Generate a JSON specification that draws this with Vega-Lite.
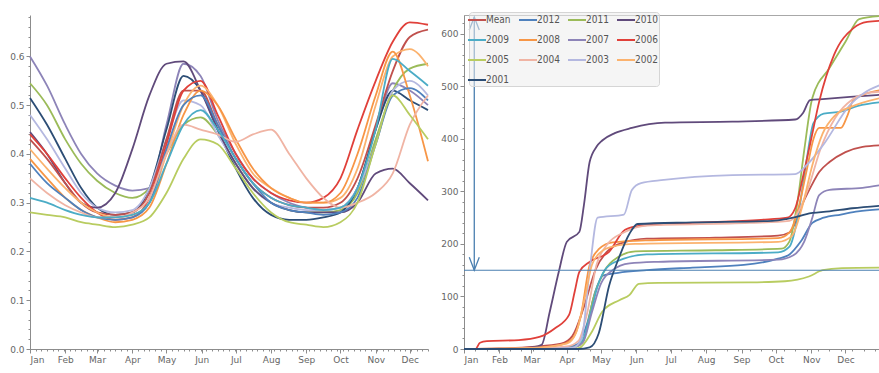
{
  "$schema": "https://vega.github.io/schema/vega-lite/v6.json",
  "background": "white",
  "padding": {"left": 9, "top": 11, "right": 0, "bottom": 0},
  "spacing": 8,
  "config": {
    "view": {"stroke": null},
    "axis": {"grid": false, "domainColor": "#8c8c8c", "tickColor": "#8c8c8c", "labelColor": "#666666", "labelFont": "DejaVu Sans", "labelFontSize": 9, "tickSize": 4, "labelPadding": 2}
  },
  "datasets": {
    "index": [
      {"s":"2007","d":0,"v":0.60},{"s":"2007","d":15,"v":0.54},{"s":"2007","d":31,"v":0.46},{"s":"2007","d":45,"v":0.40},{"s":"2007","d":59,"v":0.36},{"s":"2007","d":75,"v":0.335},{"s":"2007","d":90,"v":0.325},{"s":"2007","d":105,"v":0.33},{"s":"2007","d":120,"v":0.46},{"s":"2007","d":135,"v":0.585},{"s":"2007","d":150,"v":0.56},{"s":"2007","d":165,"v":0.47},{"s":"2007","d":181,"v":0.40},{"s":"2007","d":196,"v":0.35},{"s":"2007","d":212,"v":0.32},{"s":"2007","d":228,"v":0.30},{"s":"2007","d":243,"v":0.29},{"s":"2007","d":258,"v":0.285},{"s":"2007","d":273,"v":0.29},{"s":"2007","d":288,"v":0.33},{"s":"2007","d":304,"v":0.45},{"s":"2007","d":319,"v":0.545},{"s":"2007","d":334,"v":0.53},{"s":"2007","d":350,"v":0.50},
      {"s":"2011","d":0,"v":0.545},{"s":"2011","d":15,"v":0.50},{"s":"2011","d":31,"v":0.43},{"s":"2011","d":45,"v":0.38},{"s":"2011","d":59,"v":0.345},{"s":"2011","d":75,"v":0.32},{"s":"2011","d":90,"v":0.31},{"s":"2011","d":105,"v":0.33},{"s":"2011","d":120,"v":0.40},{"s":"2011","d":135,"v":0.46},{"s":"2011","d":150,"v":0.475},{"s":"2011","d":165,"v":0.44},{"s":"2011","d":181,"v":0.38},{"s":"2011","d":196,"v":0.33},{"s":"2011","d":212,"v":0.30},{"s":"2011","d":228,"v":0.285},{"s":"2011","d":243,"v":0.28},{"s":"2011","d":258,"v":0.28},{"s":"2011","d":273,"v":0.285},{"s":"2011","d":288,"v":0.32},{"s":"2011","d":304,"v":0.43},{"s":"2011","d":319,"v":0.53},{"s":"2011","d":334,"v":0.575},{"s":"2011","d":350,"v":0.585},
      {"s":"2001","d":0,"v":0.515},{"s":"2001","d":15,"v":0.46},{"s":"2001","d":31,"v":0.39},{"s":"2001","d":45,"v":0.33},{"s":"2001","d":59,"v":0.29},{"s":"2001","d":75,"v":0.275},{"s":"2001","d":90,"v":0.28},{"s":"2001","d":105,"v":0.33},{"s":"2001","d":120,"v":0.45},{"s":"2001","d":135,"v":0.56},{"s":"2001","d":150,"v":0.53},{"s":"2001","d":165,"v":0.45},{"s":"2001","d":181,"v":0.37},{"s":"2001","d":196,"v":0.31},{"s":"2001","d":212,"v":0.275},{"s":"2001","d":228,"v":0.265},{"s":"2001","d":243,"v":0.265},{"s":"2001","d":258,"v":0.27},{"s":"2001","d":273,"v":0.28},{"s":"2001","d":288,"v":0.33},{"s":"2001","d":304,"v":0.45},{"s":"2001","d":319,"v":0.53},{"s":"2001","d":334,"v":0.51},{"s":"2001","d":350,"v":0.49},
      {"s":"2003","d":0,"v":0.48},{"s":"2003","d":15,"v":0.43},{"s":"2003","d":31,"v":0.37},{"s":"2003","d":45,"v":0.32},{"s":"2003","d":59,"v":0.29},{"s":"2003","d":75,"v":0.28},{"s":"2003","d":90,"v":0.285},{"s":"2003","d":105,"v":0.33},{"s":"2003","d":120,"v":0.43},{"s":"2003","d":135,"v":0.51},{"s":"2003","d":150,"v":0.50},{"s":"2003","d":165,"v":0.44},{"s":"2003","d":181,"v":0.38},{"s":"2003","d":196,"v":0.33},{"s":"2003","d":212,"v":0.30},{"s":"2003","d":228,"v":0.29},{"s":"2003","d":243,"v":0.285},{"s":"2003","d":258,"v":0.285},{"s":"2003","d":273,"v":0.29},{"s":"2003","d":288,"v":0.33},{"s":"2003","d":304,"v":0.42},{"s":"2003","d":319,"v":0.53},{"s":"2003","d":334,"v":0.55},{"s":"2003","d":350,"v":0.52},
      {"s":"2010","d":0,"v":0.445},{"s":"2010","d":15,"v":0.40},{"s":"2010","d":31,"v":0.34},{"s":"2010","d":45,"v":0.30},{"s":"2010","d":59,"v":0.29},{"s":"2010","d":75,"v":0.32},{"s":"2010","d":90,"v":0.41},{"s":"2010","d":105,"v":0.52},{"s":"2010","d":120,"v":0.585},{"s":"2010","d":135,"v":0.59},{"s":"2010","d":150,"v":0.53},{"s":"2010","d":165,"v":0.45},{"s":"2010","d":181,"v":0.38},{"s":"2010","d":196,"v":0.33},{"s":"2010","d":212,"v":0.30},{"s":"2010","d":228,"v":0.285},{"s":"2010","d":243,"v":0.28},{"s":"2010","d":258,"v":0.28},{"s":"2010","d":273,"v":0.28},{"s":"2010","d":288,"v":0.30},{"s":"2010","d":304,"v":0.36},{"s":"2010","d":319,"v":0.37},{"s":"2010","d":334,"v":0.34},{"s":"2010","d":350,"v":0.305},
      {"s":"Mean","d":0,"v":0.43},{"s":"Mean","d":15,"v":0.39},{"s":"Mean","d":31,"v":0.34},{"s":"Mean","d":45,"v":0.30},{"s":"Mean","d":59,"v":0.28},{"s":"Mean","d":75,"v":0.275},{"s":"Mean","d":90,"v":0.28},{"s":"Mean","d":105,"v":0.32},{"s":"Mean","d":120,"v":0.43},{"s":"Mean","d":135,"v":0.53},{"s":"Mean","d":150,"v":0.53},{"s":"Mean","d":165,"v":0.46},{"s":"Mean","d":181,"v":0.39},{"s":"Mean","d":196,"v":0.34},{"s":"Mean","d":212,"v":0.31},{"s":"Mean","d":228,"v":0.295},{"s":"Mean","d":243,"v":0.29},{"s":"Mean","d":258,"v":0.29},{"s":"Mean","d":273,"v":0.30},{"s":"Mean","d":288,"v":0.35},{"s":"Mean","d":304,"v":0.46},{"s":"Mean","d":319,"v":0.57},{"s":"Mean","d":334,"v":0.64},{"s":"Mean","d":350,"v":0.655},
      {"s":"2006","d":0,"v":0.44},{"s":"2006","d":15,"v":0.40},{"s":"2006","d":31,"v":0.35},{"s":"2006","d":45,"v":0.31},{"s":"2006","d":59,"v":0.28},{"s":"2006","d":75,"v":0.265},{"s":"2006","d":90,"v":0.27},{"s":"2006","d":105,"v":0.31},{"s":"2006","d":120,"v":0.42},{"s":"2006","d":135,"v":0.53},{"s":"2006","d":150,"v":0.55},{"s":"2006","d":165,"v":0.48},{"s":"2006","d":181,"v":0.40},{"s":"2006","d":196,"v":0.35},{"s":"2006","d":212,"v":0.32},{"s":"2006","d":228,"v":0.305},{"s":"2006","d":243,"v":0.30},{"s":"2006","d":258,"v":0.31},{"s":"2006","d":273,"v":0.35},{"s":"2006","d":288,"v":0.45},{"s":"2006","d":304,"v":0.55},{"s":"2006","d":319,"v":0.63},{"s":"2006","d":334,"v":0.67},{"s":"2006","d":350,"v":0.665},
      {"s":"2002","d":0,"v":0.41},{"s":"2002","d":15,"v":0.37},{"s":"2002","d":31,"v":0.33},{"s":"2002","d":45,"v":0.30},{"s":"2002","d":59,"v":0.28},{"s":"2002","d":75,"v":0.27},{"s":"2002","d":90,"v":0.275},{"s":"2002","d":105,"v":0.30},{"s":"2002","d":120,"v":0.40},{"s":"2002","d":135,"v":0.50},{"s":"2002","d":150,"v":0.54},{"s":"2002","d":165,"v":0.50},{"s":"2002","d":181,"v":0.42},{"s":"2002","d":196,"v":0.36},{"s":"2002","d":212,"v":0.33},{"s":"2002","d":228,"v":0.31},{"s":"2002","d":243,"v":0.30},{"s":"2002","d":258,"v":0.30},{"s":"2002","d":273,"v":0.31},{"s":"2002","d":288,"v":0.37},{"s":"2002","d":304,"v":0.50},{"s":"2002","d":319,"v":0.60},{"s":"2002","d":334,"v":0.615},{"s":"2002","d":350,"v":0.58},
      {"s":"2008","d":0,"v":0.39},{"s":"2008","d":15,"v":0.35},{"s":"2008","d":31,"v":0.31},{"s":"2008","d":45,"v":0.285},{"s":"2008","d":59,"v":0.27},{"s":"2008","d":75,"v":0.26},{"s":"2008","d":90,"v":0.265},{"s":"2008","d":105,"v":0.29},{"s":"2008","d":120,"v":0.38},{"s":"2008","d":135,"v":0.48},{"s":"2008","d":150,"v":0.53},{"s":"2008","d":165,"v":0.50},{"s":"2008","d":181,"v":0.43},{"s":"2008","d":196,"v":0.37},{"s":"2008","d":212,"v":0.33},{"s":"2008","d":228,"v":0.31},{"s":"2008","d":243,"v":0.30},{"s":"2008","d":258,"v":0.30},{"s":"2008","d":273,"v":0.32},{"s":"2008","d":288,"v":0.40},{"s":"2008","d":304,"v":0.52},{"s":"2008","d":319,"v":0.61},{"s":"2008","d":334,"v":0.52},{"s":"2008","d":350,"v":0.385},
      {"s":"2012","d":0,"v":0.38},{"s":"2012","d":15,"v":0.34},{"s":"2012","d":31,"v":0.31},{"s":"2012","d":45,"v":0.285},{"s":"2012","d":59,"v":0.27},{"s":"2012","d":75,"v":0.265},{"s":"2012","d":90,"v":0.27},{"s":"2012","d":105,"v":0.30},{"s":"2012","d":120,"v":0.41},{"s":"2012","d":135,"v":0.50},{"s":"2012","d":150,"v":0.52},{"s":"2012","d":165,"v":0.46},{"s":"2012","d":181,"v":0.39},{"s":"2012","d":196,"v":0.34},{"s":"2012","d":212,"v":0.30},{"s":"2012","d":228,"v":0.285},{"s":"2012","d":243,"v":0.28},{"s":"2012","d":258,"v":0.275},{"s":"2012","d":273,"v":0.28},{"s":"2012","d":288,"v":0.31},{"s":"2012","d":304,"v":0.42},{"s":"2012","d":319,"v":0.52},{"s":"2012","d":334,"v":0.535},{"s":"2012","d":350,"v":0.51},
      {"s":"2004","d":0,"v":0.35},{"s":"2004","d":15,"v":0.32},{"s":"2004","d":31,"v":0.295},{"s":"2004","d":45,"v":0.28},{"s":"2004","d":59,"v":0.27},{"s":"2004","d":75,"v":0.27},{"s":"2004","d":90,"v":0.28},{"s":"2004","d":105,"v":0.31},{"s":"2004","d":120,"v":0.40},{"s":"2004","d":135,"v":0.46},{"s":"2004","d":150,"v":0.45},{"s":"2004","d":165,"v":0.44},{"s":"2004","d":181,"v":0.425},{"s":"2004","d":196,"v":0.44},{"s":"2004","d":212,"v":0.45},{"s":"2004","d":228,"v":0.40},{"s":"2004","d":243,"v":0.35},{"s":"2004","d":258,"v":0.31},{"s":"2004","d":273,"v":0.29},{"s":"2004","d":288,"v":0.30},{"s":"2004","d":304,"v":0.32},{"s":"2004","d":319,"v":0.36},{"s":"2004","d":334,"v":0.46},{"s":"2004","d":350,"v":0.52},
      {"s":"2009","d":0,"v":0.31},{"s":"2009","d":15,"v":0.30},{"s":"2009","d":31,"v":0.285},{"s":"2009","d":45,"v":0.275},{"s":"2009","d":59,"v":0.27},{"s":"2009","d":75,"v":0.27},{"s":"2009","d":90,"v":0.275},{"s":"2009","d":105,"v":0.30},{"s":"2009","d":120,"v":0.38},{"s":"2009","d":135,"v":0.46},{"s":"2009","d":150,"v":0.49},{"s":"2009","d":165,"v":0.45},{"s":"2009","d":181,"v":0.39},{"s":"2009","d":196,"v":0.34},{"s":"2009","d":212,"v":0.31},{"s":"2009","d":228,"v":0.295},{"s":"2009","d":243,"v":0.29},{"s":"2009","d":258,"v":0.285},{"s":"2009","d":273,"v":0.29},{"s":"2009","d":288,"v":0.33},{"s":"2009","d":304,"v":0.45},{"s":"2009","d":319,"v":0.595},{"s":"2009","d":334,"v":0.57},{"s":"2009","d":350,"v":0.54},
      {"s":"2005","d":0,"v":0.28},{"s":"2005","d":15,"v":0.275},{"s":"2005","d":31,"v":0.27},{"s":"2005","d":45,"v":0.26},{"s":"2005","d":59,"v":0.255},{"s":"2005","d":75,"v":0.25},{"s":"2005","d":90,"v":0.255},{"s":"2005","d":105,"v":0.27},{"s":"2005","d":120,"v":0.32},{"s":"2005","d":135,"v":0.39},{"s":"2005","d":150,"v":0.43},{"s":"2005","d":165,"v":0.42},{"s":"2005","d":181,"v":0.37},{"s":"2005","d":196,"v":0.32},{"s":"2005","d":212,"v":0.28},{"s":"2005","d":228,"v":0.26},{"s":"2005","d":243,"v":0.255},{"s":"2005","d":258,"v":0.25},{"s":"2005","d":273,"v":0.26},{"s":"2005","d":288,"v":0.30},{"s":"2005","d":304,"v":0.42},{"s":"2005","d":319,"v":0.52},{"s":"2005","d":334,"v":0.48},{"s":"2005","d":350,"v":0.43}
    ],
    "cumulative": [
      {"s":"Mean","d":0,"v":0},{"s":"Mean","d":30,"v":1},{"s":"Mean","d":60,"v":4},{"s":"Mean","d":85,"v":10},{"s":"Mean","d":95,"v":25},{"s":"Mean","d":105,"v":80},{"s":"Mean","d":115,"v":150},{"s":"Mean","d":125,"v":185},{"s":"Mean","d":140,"v":203},{"s":"Mean","d":160,"v":210},{"s":"Mean","d":220,"v":212},{"s":"Mean","d":275,"v":216},{"s":"Mean","d":285,"v":222},{"s":"Mean","d":290,"v":240},{"s":"Mean","d":296,"v":274},{"s":"Mean","d":304,"v":310},{"s":"Mean","d":311,"v":337},{"s":"Mean","d":320,"v":356},{"s":"Mean","d":334,"v":375},{"s":"Mean","d":349,"v":385},{"s":"Mean","d":365,"v":388},
      {"s":"2012","d":0,"v":0},{"s":"2012","d":60,"v":0},{"s":"2012","d":90,"v":3},{"s":"2012","d":100,"v":10},{"s":"2012","d":108,"v":50},{"s":"2012","d":115,"v":110},{"s":"2012","d":122,"v":140},{"s":"2012","d":135,"v":145},{"s":"2012","d":160,"v":150},{"s":"2012","d":200,"v":155},{"s":"2012","d":245,"v":160},{"s":"2012","d":275,"v":172},{"s":"2012","d":285,"v":180},{"s":"2012","d":295,"v":205},{"s":"2012","d":305,"v":240},{"s":"2012","d":315,"v":250},{"s":"2012","d":330,"v":256},{"s":"2012","d":345,"v":262},{"s":"2012","d":365,"v":266},
      {"s":"2011","d":0,"v":0},{"s":"2011","d":60,"v":0},{"s":"2011","d":90,"v":2},{"s":"2011","d":100,"v":6},{"s":"2011","d":106,"v":25},{"s":"2011","d":113,"v":95},{"s":"2011","d":122,"v":145},{"s":"2011","d":135,"v":175},{"s":"2011","d":150,"v":186},{"s":"2011","d":220,"v":188},{"s":"2011","d":278,"v":191},{"s":"2011","d":285,"v":205},{"s":"2011","d":292,"v":280},{"s":"2011","d":298,"v":380},{"s":"2011","d":305,"v":478},{"s":"2011","d":320,"v":535},{"s":"2011","d":334,"v":585},{"s":"2011","d":346,"v":628},{"s":"2011","d":365,"v":634},
      {"s":"2010","d":0,"v":0},{"s":"2010","d":40,"v":0},{"s":"2010","d":60,"v":3},{"s":"2010","d":68,"v":8},{"s":"2010","d":75,"v":70},{"s":"2010","d":83,"v":147},{"s":"2010","d":90,"v":204},{"s":"2010","d":101,"v":223},{"s":"2010","d":105,"v":274},{"s":"2010","d":110,"v":356},{"s":"2010","d":116,"v":385},{"s":"2010","d":121,"v":397},{"s":"2010","d":132,"v":411},{"s":"2010","d":147,"v":421},{"s":"2010","d":162,"v":428},{"s":"2010","d":176,"v":431},{"s":"2010","d":235,"v":433},{"s":"2010","d":290,"v":437},{"s":"2010","d":297,"v":450},{"s":"2010","d":303,"v":474},{"s":"2010","d":314,"v":476},{"s":"2010","d":338,"v":480},{"s":"2010","d":365,"v":484},
      {"s":"2009","d":0,"v":0},{"s":"2009","d":60,"v":0},{"s":"2009","d":95,"v":3},{"s":"2009","d":103,"v":12},{"s":"2009","d":110,"v":60},{"s":"2009","d":117,"v":120},{"s":"2009","d":125,"v":155},{"s":"2009","d":140,"v":172},{"s":"2009","d":160,"v":180},{"s":"2009","d":275,"v":184},{"s":"2009","d":285,"v":195},{"s":"2009","d":293,"v":260},{"s":"2009","d":300,"v":360},{"s":"2009","d":306,"v":430},{"s":"2009","d":315,"v":448},{"s":"2009","d":330,"v":452},{"s":"2009","d":345,"v":463},{"s":"2009","d":365,"v":470},
      {"s":"2008","d":0,"v":0},{"s":"2008","d":60,"v":2},{"s":"2008","d":85,"v":8},{"s":"2008","d":95,"v":20},{"s":"2008","d":102,"v":60},{"s":"2008","d":110,"v":160},{"s":"2008","d":118,"v":190},{"s":"2008","d":130,"v":203},{"s":"2008","d":160,"v":207},{"s":"2008","d":275,"v":211},{"s":"2008","d":285,"v":222},{"s":"2008","d":293,"v":270},{"s":"2008","d":300,"v":340},{"s":"2008","d":306,"v":400},{"s":"2008","d":311,"v":421},{"s":"2008","d":330,"v":421},{"s":"2008","d":336,"v":446},{"s":"2008","d":341,"v":474},{"s":"2008","d":365,"v":493},
      {"s":"2007","d":0,"v":0},{"s":"2007","d":60,"v":0},{"s":"2007","d":95,"v":3},{"s":"2007","d":104,"v":12},{"s":"2007","d":112,"v":70},{"s":"2007","d":120,"v":125},{"s":"2007","d":130,"v":150},{"s":"2007","d":145,"v":163},{"s":"2007","d":170,"v":166},{"s":"2007","d":275,"v":170},{"s":"2007","d":288,"v":178},{"s":"2007","d":298,"v":205},{"s":"2007","d":305,"v":250},{"s":"2007","d":311,"v":293},{"s":"2007","d":320,"v":303},{"s":"2007","d":349,"v":307},{"s":"2007","d":365,"v":312},
      {"s":"2006","d":0,"v":0},{"s":"2006","d":10,"v":0},{"s":"2006","d":14,"v":12},{"s":"2006","d":20,"v":15},{"s":"2006","d":48,"v":17},{"s":"2006","d":66,"v":23},{"s":"2006","d":80,"v":40},{"s":"2006","d":92,"v":65},{"s":"2006","d":97,"v":110},{"s":"2006","d":101,"v":147},{"s":"2006","d":110,"v":166},{"s":"2006","d":127,"v":185},{"s":"2006","d":141,"v":227},{"s":"2006","d":155,"v":235},{"s":"2006","d":200,"v":240},{"s":"2006","d":260,"v":246},{"s":"2006","d":283,"v":250},{"s":"2006","d":290,"v":268},{"s":"2006","d":297,"v":330},{"s":"2006","d":304,"v":400},{"s":"2006","d":311,"v":471},{"s":"2006","d":324,"v":560},{"s":"2006","d":341,"v":611},{"s":"2006","d":353,"v":623},{"s":"2006","d":365,"v":625},
      {"s":"2005","d":0,"v":0},{"s":"2005","d":60,"v":0},{"s":"2005","d":95,"v":0},{"s":"2005","d":101,"v":2},{"s":"2005","d":112,"v":33},{"s":"2005","d":121,"v":71},{"s":"2005","d":136,"v":93},{"s":"2005","d":145,"v":103},{"s":"2005","d":153,"v":124},{"s":"2005","d":170,"v":126},{"s":"2005","d":250,"v":127},{"s":"2005","d":281,"v":129},{"s":"2005","d":302,"v":138},{"s":"2005","d":314,"v":150},{"s":"2005","d":331,"v":154},{"s":"2005","d":365,"v":155},
      {"s":"2004","d":0,"v":0},{"s":"2004","d":60,"v":1},{"s":"2004","d":90,"v":5},{"s":"2004","d":100,"v":15},{"s":"2004","d":108,"v":70},{"s":"2004","d":116,"v":160},{"s":"2004","d":125,"v":198},{"s":"2004","d":140,"v":222},{"s":"2004","d":160,"v":235},{"s":"2004","d":250,"v":240},{"s":"2004","d":285,"v":244},{"s":"2004","d":293,"v":262},{"s":"2004","d":302,"v":310},{"s":"2004","d":312,"v":380},{"s":"2004","d":325,"v":440},{"s":"2004","d":340,"v":475},{"s":"2004","d":355,"v":488},{"s":"2004","d":365,"v":490},
      {"s":"2003","d":0,"v":0},{"s":"2003","d":60,"v":0},{"s":"2003","d":95,"v":2},{"s":"2003","d":103,"v":20},{"s":"2003","d":110,"v":150},{"s":"2003","d":117,"v":250},{"s":"2003","d":140,"v":256},{"s":"2003","d":147,"v":303},{"s":"2003","d":155,"v":316},{"s":"2003","d":175,"v":322},{"s":"2003","d":235,"v":331},{"s":"2003","d":290,"v":333},{"s":"2003","d":300,"v":350},{"s":"2003","d":315,"v":390},{"s":"2003","d":338,"v":465},{"s":"2003","d":350,"v":487},{"s":"2003","d":365,"v":503},
      {"s":"2002","d":0,"v":0},{"s":"2002","d":60,"v":2},{"s":"2002","d":90,"v":10},{"s":"2002","d":98,"v":30},{"s":"2002","d":105,"v":90},{"s":"2002","d":112,"v":160},{"s":"2002","d":120,"v":185},{"s":"2002","d":130,"v":195},{"s":"2002","d":150,"v":200},{"s":"2002","d":275,"v":204},{"s":"2002","d":287,"v":215},{"s":"2002","d":296,"v":270},{"s":"2002","d":305,"v":350},{"s":"2002","d":314,"v":410},{"s":"2002","d":325,"v":445},{"s":"2002","d":340,"v":462},{"s":"2002","d":365,"v":478},
      {"s":"2001","d":0,"v":0},{"s":"2001","d":60,"v":0},{"s":"2001","d":100,"v":0},{"s":"2001","d":110,"v":3},{"s":"2001","d":118,"v":30},{"s":"2001","d":127,"v":120},{"s":"2001","d":135,"v":170},{"s":"2001","d":145,"v":220},{"s":"2001","d":152,"v":238},{"s":"2001","d":200,"v":241},{"s":"2001","d":270,"v":244},{"s":"2001","d":283,"v":248},{"s":"2001","d":292,"v":252},{"s":"2001","d":300,"v":257},{"s":"2001","d":320,"v":262},{"s":"2001","d":340,"v":268},{"s":"2001","d":365,"v":273}
    ]
  },
  "hconcat": [
    {
      "width": 398,
      "height": 334,
      "layer": [
        {
          "data": {"name": "index"},
          "mark": {"type": "line", "interpolate": "monotone", "strokeWidth": 1.8},
          "encoding": {
            "x": {"field": "d", "type": "quantitative", "scale": {"domain": [0, 350], "nice": false},
                  "axis": {"title": null, "values": [0, 31, 59, 90, 120, 151, 181, 212, 243, 273, 304, 334], "labelExpr": "timeFormat(datetime(2001, 0, 1 + datum.value), '%b')"}},
            "y": {"field": "v", "type": "quantitative", "scale": {"domain": [0, 0.685], "nice": false},
                  "axis": {"title": null, "values": [0, 0.1, 0.2, 0.3, 0.4, 0.5, 0.6], "format": ".1f"}},
            "color": {"field": "s", "type": "nominal", "legend": null,
                      "scale": {"domain": ["Mean", "2012", "2011", "2010", "2009", "2008", "2007", "2006", "2005", "2004", "2003", "2002", "2001"],
                                "range": ["#c0504d", "#4f81bd", "#9bbb59", "#604a7b", "#4bacc6", "#f79646", "#8d84b8", "#e0403a", "#b8cc60", "#f0b4a4", "#b4b8e0", "#fbb26e", "#2c4d75"]}}
          }
        },
        {
          "data": {"values": []},
          "mark": "point",
          "encoding": {
            "x": {"field": "d", "type": "quantitative", "axis": {"orient": "bottom", "title": null, "labels": false, "domain": false, "tickSize": 2, "tickCount": 50}},
            "y": {"field": "v", "type": "quantitative", "axis": {"orient": "left", "title": null, "labels": false, "domain": false, "tickSize": 2, "tickCount": 35}}
          }
        }
      ],
      "resolve": {"axis": {"x": "independent", "y": "independent"}}
    },
    {
      "width": 418,
      "height": 334,
      "view": {"stroke": "#a8a8a8"},
      "layer": [
        {
          "data": {"name": "cumulative"},
          "mark": {"type": "line", "interpolate": "monotone", "strokeWidth": 1.8},
          "encoding": {
            "x": {"field": "d", "type": "quantitative", "scale": {"domain": [0, 366], "nice": false},
                  "axis": {"title": null, "values": [0, 31, 59, 90, 120, 151, 181, 212, 243, 273, 304, 334], "labelExpr": "timeFormat(datetime(2001, 0, 1 + datum.value), '%b')"}},
            "y": {"field": "v", "type": "quantitative", "scale": {"domain": [0, 636], "nice": false},
                  "axis": {"title": null, "values": [0, 100, 200, 300, 400, 500, 600]}},
            "color": {"field": "s", "type": "nominal",
                      "scale": {"domain": ["Mean", "2012", "2011", "2010", "2009", "2008", "2007", "2006", "2005", "2004", "2003", "2002", "2001"],
                                "range": ["#c0504d", "#4f81bd", "#9bbb59", "#604a7b", "#4bacc6", "#f79646", "#8d84b8", "#e0403a", "#b8cc60", "#f0b4a4", "#b4b8e0", "#fbb26e", "#2c4d75"]},
                      "legend": {"title": null, "orient": "none", "direction": "horizontal", "legendX": 5, "legendY": -3, "columns": 4,
                                 "symbolType": "M-1.5,0L1.5,0", "symbolSize": 144, "symbolStrokeWidth": 2, "symbolFillColor": "transparent",
                                 "labelFont": "DejaVu Sans Condensed, Liberation Sans", "labelFontSize": 10, "labelColor": "#555555", "labelOffset": 2,
                                 "fillColor": "rgba(236,236,236,0.55)", "strokeColor": "#d5d5d5", "cornerRadius": 3, "padding": 1, "columnPadding": 4, "rowPadding": 8}}
          }
        },
        {
          "data": {"values": []},
          "mark": "point",
          "encoding": {
            "x": {"field": "d", "type": "quantitative", "axis": {"orient": "bottom", "title": null, "labels": false, "domain": false, "tickSize": 2, "tickCount": 50}},
            "y": {"field": "v", "type": "quantitative", "axis": {"orient": "left", "title": null, "labels": false, "domain": false, "tickSize": 2, "tickCount": 32}}
          }
        },
        {
          "data": {"values": [{"v": 150}]},
          "mark": {"type": "rule", "color": "#4a7fb0", "strokeWidth": 1.2},
          "encoding": {"y": {"field": "v", "type": "quantitative", "axis": null}}
        },
        {
          "data": {"values": [{"d": 9, "lo": 150, "hi": 632}]},
          "mark": {"type": "rule", "color": "#4a7fb0", "strokeWidth": 1.3},
          "encoding": {
            "x": {"field": "d", "type": "quantitative", "axis": null},
            "y": {"field": "lo", "type": "quantitative", "axis": null},
            "y2": {"field": "hi"}
          }
        },
        {
          "data": {"values": [{"d": 9, "v": 632, "dir": "up"}, {"d": 9, "v": 150, "dir": "down"}]},
          "mark": {"type": "point", "filled": false, "color": "#4a7fb0", "strokeWidth": 1.3, "size": 100, "opacity": 1},
          "encoding": {
            "x": {"field": "d", "type": "quantitative", "axis": null},
            "y": {"field": "v", "type": "quantitative", "axis": null},
            "shape": {"field": "dir", "type": "nominal", "legend": null,
                      "scale": {"domain": ["up", "down"], "range": ["M-1,2.6L0,0L1,2.6", "M-1,-2.6L0,0L1,-2.6"]}}
          }
        }
      ],
      "resolve": {"axis": {"x": "independent", "y": "independent"}}
    }
  ],
  "resolve": {"scale": {"color": "independent"}, "legend": {"color": "independent"}}
}
